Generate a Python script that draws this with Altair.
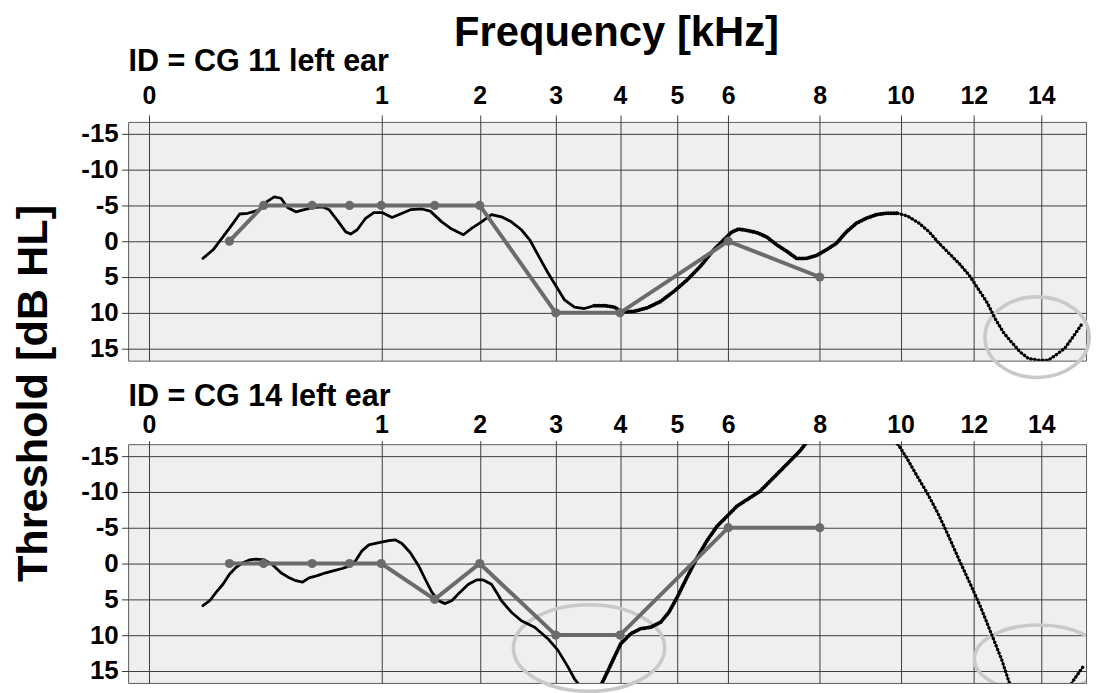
import altair as alt
import pandas as pd

FONT = "Liberation Sans"

# ---------------------------------------------------------------- data
x_ticks = [0, 1, 2, 3, 4, 5, 6, 8, 10, 12, 14]
y_ticks = [-15, -10, -5, 0, 5, 10, 15]

# standard audiometric frequencies (kHz)
aud_freq = [0.125, 0.25, 0.5, 0.75, 1, 1.5, 2, 3, 4, 6, 8]
aud_cg11_db = [0, -5, -5, -5, -5, -5, -5, 10, 10, 0, 5]
aud_cg14_db = [0, 0, 0, 0, 0, 5, 0, 10, 10, -5, -5]

# continuous threshold trace, CG 11 left ear
cg11_freq = [0.057, 0.080, 0.106, 0.136, 0.158, 0.187, 0.226, 0.268, 0.298, 0.330,
             0.363, 0.407, 0.454, 0.502, 0.564, 0.607, 0.663, 0.722, 0.758, 0.807,
             0.872, 0.938, 1.007, 1.093, 1.168, 1.260, 1.371, 1.455, 1.574, 1.681,
             1.810, 1.904, 2.021, 2.141, 2.265, 2.392, 2.523, 2.635, 2.748, 2.887,
             3.006, 3.128, 3.276, 3.428, 3.583, 3.742, 3.904, 4.041, 4.238, 4.468,
             4.704, 4.947, 5.194, 5.448, 5.709, 5.940, 6.075, 6.212, 6.384, 6.594,
             6.807, 7.024, 7.244, 7.467, 7.694, 7.923, 8.157, 8.393, 8.633, 8.876,
             9.123, 9.372, 9.625, 9.926, 10.186, 10.492, 10.759, 11.030, 11.303, 11.580,
             11.861, 12.144, 12.385, 12.625, 12.868, 13.116, 13.363, 13.612, 13.916, 14.222,
             14.482, 14.741, 15.003, 15.270]
cg11_db = [2.4, 1.2, -0.6, -2.5, -3.8, -3.9, -4.3, -5.6, -6.2, -6.0,
           -4.7, -4.1, -4.4, -4.7, -4.8, -4.4, -2.9, -1.3, -1.0, -1.6,
           -3.2, -4.0, -4.0, -3.3, -3.8, -4.4, -4.5, -4.2, -2.7, -1.7,
           -0.9, -1.8, -2.7, -3.7, -3.4, -2.7, -1.6, -0.2, 1.9, 4.4,
           6.3, 8.2, 9.2, 9.4, 9.0, 9.0, 9.2, 9.9, 9.8, 9.3,
           8.4, 7.0, 5.4, 3.5, 1.2, -0.4, -1.3, -1.7, -1.5, -1.2,
           -0.6, 0.5, 1.4, 2.4, 2.4, 2.0, 1.2, 0.3, -1.3, -2.5,
           -3.2, -3.7, -3.9, -3.9, -3.5, -2.5, -1.3, 0.3, 1.7, 3.1,
           4.7, 6.8, 8.6, 10.9, 12.8, 14.2, 15.5, 16.4, 16.6, 16.6,
           15.8, 14.9, 13.3, 11.6]

# continuous threshold trace, CG 14 left ear
cg14_freq = [0.057, 0.072, 0.088, 0.106, 0.125, 0.147, 0.169, 0.193, 0.219, 0.254,
             0.291, 0.330, 0.372, 0.407, 0.444, 0.482, 0.532, 0.585, 0.640, 0.697,
             0.758, 0.795, 0.845, 0.898, 0.979, 1.064, 1.123, 1.182, 1.260, 1.339,
             1.405, 1.471, 1.540, 1.610, 1.681, 1.773, 1.867, 1.962, 2.041, 2.141,
             2.224, 2.265, 2.392, 2.523, 2.703, 2.887, 3.030, 3.177, 3.276, 3.352,
             3.510, 3.688, 3.795, 3.904, 4.013, 4.181, 4.352, 4.526, 4.704, 4.856,
             5.008, 5.194, 5.384, 5.578, 5.774, 5.974, 6.177, 6.384, 6.664, 6.878,
             7.096, 7.317, 7.541, 7.655, 8.157, 8.876, 9.498, 9.926, 10.154, 10.436,
             10.721, 11.008, 11.301, 11.594, 11.894, 12.196, 12.504, 12.813, 13.022, 13.5,
             14.0, 14.5, 14.978, 15.315]
cg14_db = [5.9, 5.2, 4.0, 2.9, 1.5, 0.5, -0.1, -0.5, -0.6, -0.5,
           0.2, 1.3, 2.0, 2.4, 2.6, 2.0, 1.7, 1.3, 1.0, 0.7,
           0.3, -0.4, -1.8, -2.6, -2.9, -3.2, -3.3, -2.8, -1.5, 0.3,
           2.2, 4.0, 5.2, 5.6, 5.2, 4.0, 2.9, 2.3, 2.3, 2.9,
           4.4, 5.2, 6.8, 8.0, 8.9, 10.5, 12.1, 14.4, 16.1, 17.0,
           19.1, 17.0, 15.1, 13.1, 11.2, 9.8, 9.1, 8.9, 8.2, 6.8,
           4.7, 1.9, -0.8, -3.2, -5.2, -6.6, -8.0, -8.9, -10.1, -11.5,
           -12.9, -14.3, -15.7, -16.6, -20.0, -22.5, -20.5, -16.7, -14.8, -12.2,
           -9.7, -6.9, -3.7, -0.4, 2.8, 6.1, 9.8, 13.5, 16.5, 21.5,
           23.0, 20.5, 16.5, 14.4]

# highlighted regions (centre frequency kHz, centre threshold dB)
ring_cg11_freq = [13.87]
ring_cg11_db = [13.4]
ring_cg14_freq = [3.50, 13.93]
ring_cg14_db = [11.8, 13.3]

# ---------------------------------------------------------------- styling
AUD_GREY = "#6b6b6b"
RING_GREY = "#c9c9c9"


def ellipse_path(aspect):
    """Unit ellipse (x radius 1, y radius `aspect`) built from cubic curves."""
    k = 0.5523
    b = aspect
    kb = k * b
    return (f"M 1 0 C 1 {kb:.4f} {k} {b:.4f} 0 {b:.4f} "
            f"C {-k} {b:.4f} -1 {kb:.4f} -1 0 "
            f"C -1 {-kb:.4f} {-k} {-b:.4f} 0 {-b:.4f} "
            f"C {k} {-b:.4f} 1 {-kb:.4f} 1 0 Z")


x_scale = alt.Scale(type="pow", exponent=0.51, domain=[-0.0089, 15.41],
                    nice=False, zero=False)
y_scale = alt.Scale(domain=[-16.66, 16.68], reverse=True, nice=False, zero=False)


def panel(curve_f, curve_db, aud_db, ring_f, ring_db, ring_shapes,
          heading, x_tick, x_pad, heading_y, y_title):
    x_axis = alt.Axis(orient="top", values=x_ticks, labelExpr="'' + datum.value",
                      grid=True, tickSize=x_tick, labelPadding=x_pad,
                      labelFontSize=25, title=heading, titleX=0, titleY=heading_y,
                      titleAlign="left", titleAnchor="start",
                      titleBaseline="alphabetic", titleFontSize=30.7)
    y_kwargs = dict(values=y_ticks, labelExpr="'' + datum.value", grid=True,
                    tickSize=6.7, labelPadding=3.3, labelFontSize=26,
                    labelBaseline="middle")
    if y_title:
        y_kwargs.update(title=y_title, titleAngle=270, titleX=-82.5, titleY=272.5,
                        titleAlign="center", titleBaseline="alphabetic",
                        titleFontSize=43.5)
    else:
        y_kwargs.update(title="")
    y_axis = alt.Axis(**y_kwargs)

    X = alt.X("f:Q", scale=x_scale, axis=x_axis)
    Y = alt.Y("db:Q", scale=y_scale, axis=y_axis)

    curve = alt.Chart(pd.DataFrame({"f": curve_f, "db": curve_db}))
    aud = alt.Chart(pd.DataFrame({"f": aud_freq, "db": aud_db}))

    layers = []
    for f0, d0, (aspect, radius, clip) in zip(ring_f, ring_db, ring_shapes):
        layers.append(
            alt.Chart(pd.DataFrame({"f": [f0], "db": [d0]}))
            .mark_point(shape=ellipse_path(aspect), size=(2 * radius) ** 2,
                        filled=False, stroke=RING_GREY, strokeWidth=3.6,
                        opacity=1, clip=clip)
            .encode(x=X, y=Y)
        )

    # low-frequency part: dense, solid trace
    layers.append(curve.transform_filter("datum.f <= 3.6")
                  .mark_line(color="black", strokeWidth=2.8, clip=True,
                             strokeJoin="round", strokeCap="round")
                  .encode(x=X, y=Y))
    # mid part: beaded trace
    mid = curve.transform_filter("datum.f >= 3.5 && datum.f <= 10.0")
    layers.append(mid.mark_line(color="black", strokeWidth=1.8, clip=True)
                  .encode(x=X, y=Y))
    layers.append(mid.mark_line(color="black", strokeWidth=3.9, clip=True,
                                strokeCap="round", strokeDash=[0.1, 2.5])
                  .encode(x=X, y=Y))
    # high part: sparser beads
    high = curve.transform_filter("datum.f >= 9.9")
    layers.append(high.mark_line(color="black", strokeWidth=1.2, clip=True)
                  .encode(x=X, y=Y))
    layers.append(high.mark_line(color="black", strokeWidth=3.4, clip=True,
                                 strokeCap="round", strokeDash=[0.1, 3.8])
                  .encode(x=X, y=Y))

    # audiogram
    layers.append(aud.mark_line(color=AUD_GREY, strokeWidth=4).encode(x=X, y=Y))
    layers.append(aud.mark_circle(color=AUD_GREY, size=85, opacity=1)
                  .encode(x=X, y=Y))

    return alt.layer(*layers).properties(width=963, height=240)


top = panel(cg11_freq, cg11_db, aud_cg11_db, ring_cg11_freq, ring_cg11_db,
            [(0.773, 52.4, False)], "ID = CG 11 left ear", 7, 7, -51.5,
            "Threshold [dB HL]").properties(
    title=alt.TitleParams("Frequency [kHz]", anchor="middle", frame="group",
                          fontSize=42, font=FONT, fontWeight="bold", dx=9.5,
                          offset=-9, color="black"))

bottom = panel(cg14_freq, cg14_db, aud_cg14_db, ring_cg14_freq, ring_cg14_db,
               [(0.572, 76, False), (0.523, 65, True)], "ID = CG 14 left ear",
               3.5, 3, -38.7, None)

chart = (
    alt.vconcat(top, bottom, spacing=84, bounds="flush")
    .properties(padding={"left": 9.8, "top": 9.7, "right": 0, "bottom": 0},
                background="white")
    .configure_view(fill="#efefef", stroke="#5c5c5c", strokeWidth=1)
    .configure_axis(domain=False, gridColor="#3c3c3c", gridWidth=1,
                    gridOpacity=1, tickColor="#3c3c3c", tickWidth=1,
                    labelFont=FONT, labelFontWeight="bold", labelColor="black",
                    titleFont=FONT, titleFontWeight="bold", titleColor="black")
)

chart.save("out.html", embed_options={"renderer": "svg", "actions": False})
